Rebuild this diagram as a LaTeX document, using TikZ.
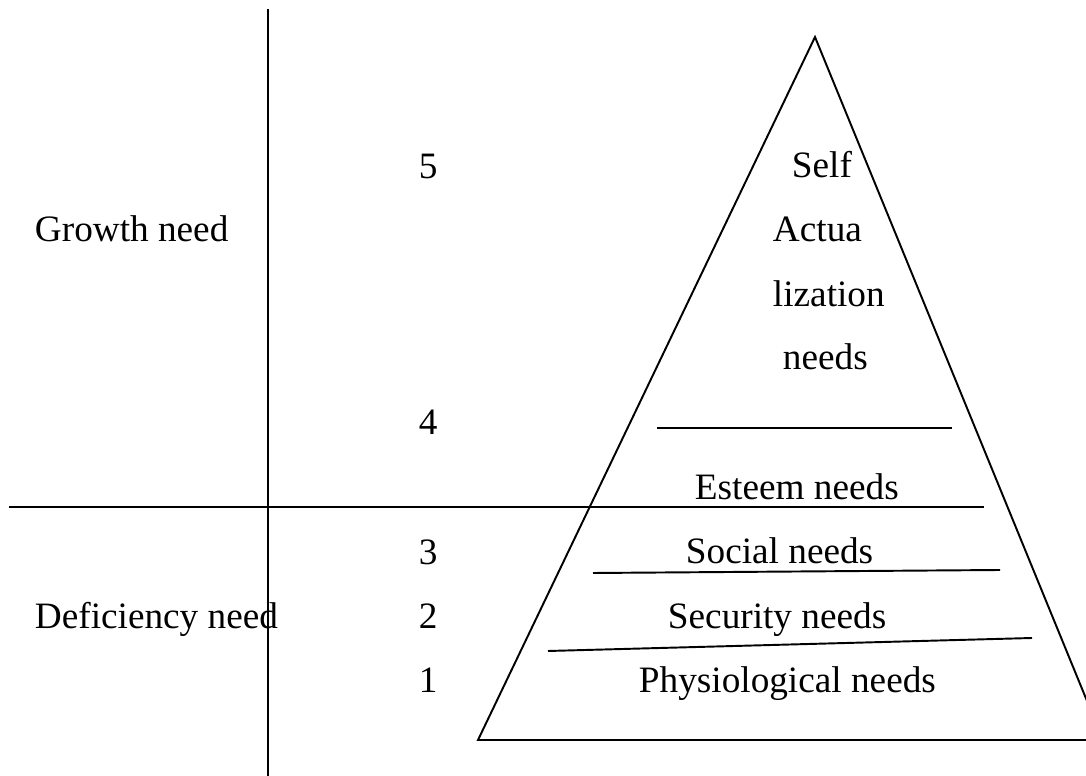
\documentclass[tikz,border=0pt]{standalone}
\usepackage{fontspec}
\setmainfont{Liberation Serif}
\usetikzlibrary{positioning}

\begin{document}
\begin{tikzpicture}[x=0.02cm,y=-0.02cm,line width=1.1pt,
        txt/.style={anchor=base west,inner sep=0pt,font=\fontsize{21.2}{25}\selectfont}]
    \useasboundingbox (0,0) rectangle (1086,776);
    \clip (0,0) rectangle (1086,776);
    % the two dividing lines
    \coordinate (v_top) at (268,9);
    \coordinate (v_bot) at (268,776);
    \coordinate (h_l) at (9,507);
    \coordinate (h_r) at (984,507);
    \draw (v_top) -- (v_bot);
    \draw (h_l) -- (h_r);
    % pyramid
    \coordinate (apex) at (815,37);
    \coordinate (base_l) at (478,740);
    \coordinate (base_r) at (1103,740);
    \draw (base_l) -- (apex) -- (base_r) -- cycle;
    % levels
    \coordinate (l4_a) at (657,428);  \coordinate (l4_b) at (952,428);
    \coordinate (l2_a) at (593,573);  \coordinate (l2_b) at (1000,570);
    \coordinate (l1_a) at (548,651);  \coordinate (l1_b) at (1032,638);
    \draw (l4_a) -- (l4_b);
    \draw (l2_a) -- (l2_b);
    \draw (l1_a) -- (l1_b);
    % labels
    \node[txt] (growth) at (34,242) {Growth need};
    \node[txt] (deficiency) at (34,629) {Deficiency need};
    \foreach \n/\y in {5/179,4/435,3/565,2/629,1/693}
        \node[txt] (num\n) at (418,\y) {\n};
    \node[txt] (self) at (791,178) {Self};
    \node[txt] (actua) at (772,242) {Actua};
    \node[txt] (lization) at (772,307) {lization};
    \node[txt] (sa_needs) at (782,370) {needs};
    \node[txt] (esteem) at (694,500) {Esteem needs};
    \node[txt] (social) at (685,564) {Social needs};
    \node[txt] (security) at (667,629) {Security needs};
    \node[txt] (physio) at (638,693) {Physiological needs};
\end{tikzpicture}
\end{document}
